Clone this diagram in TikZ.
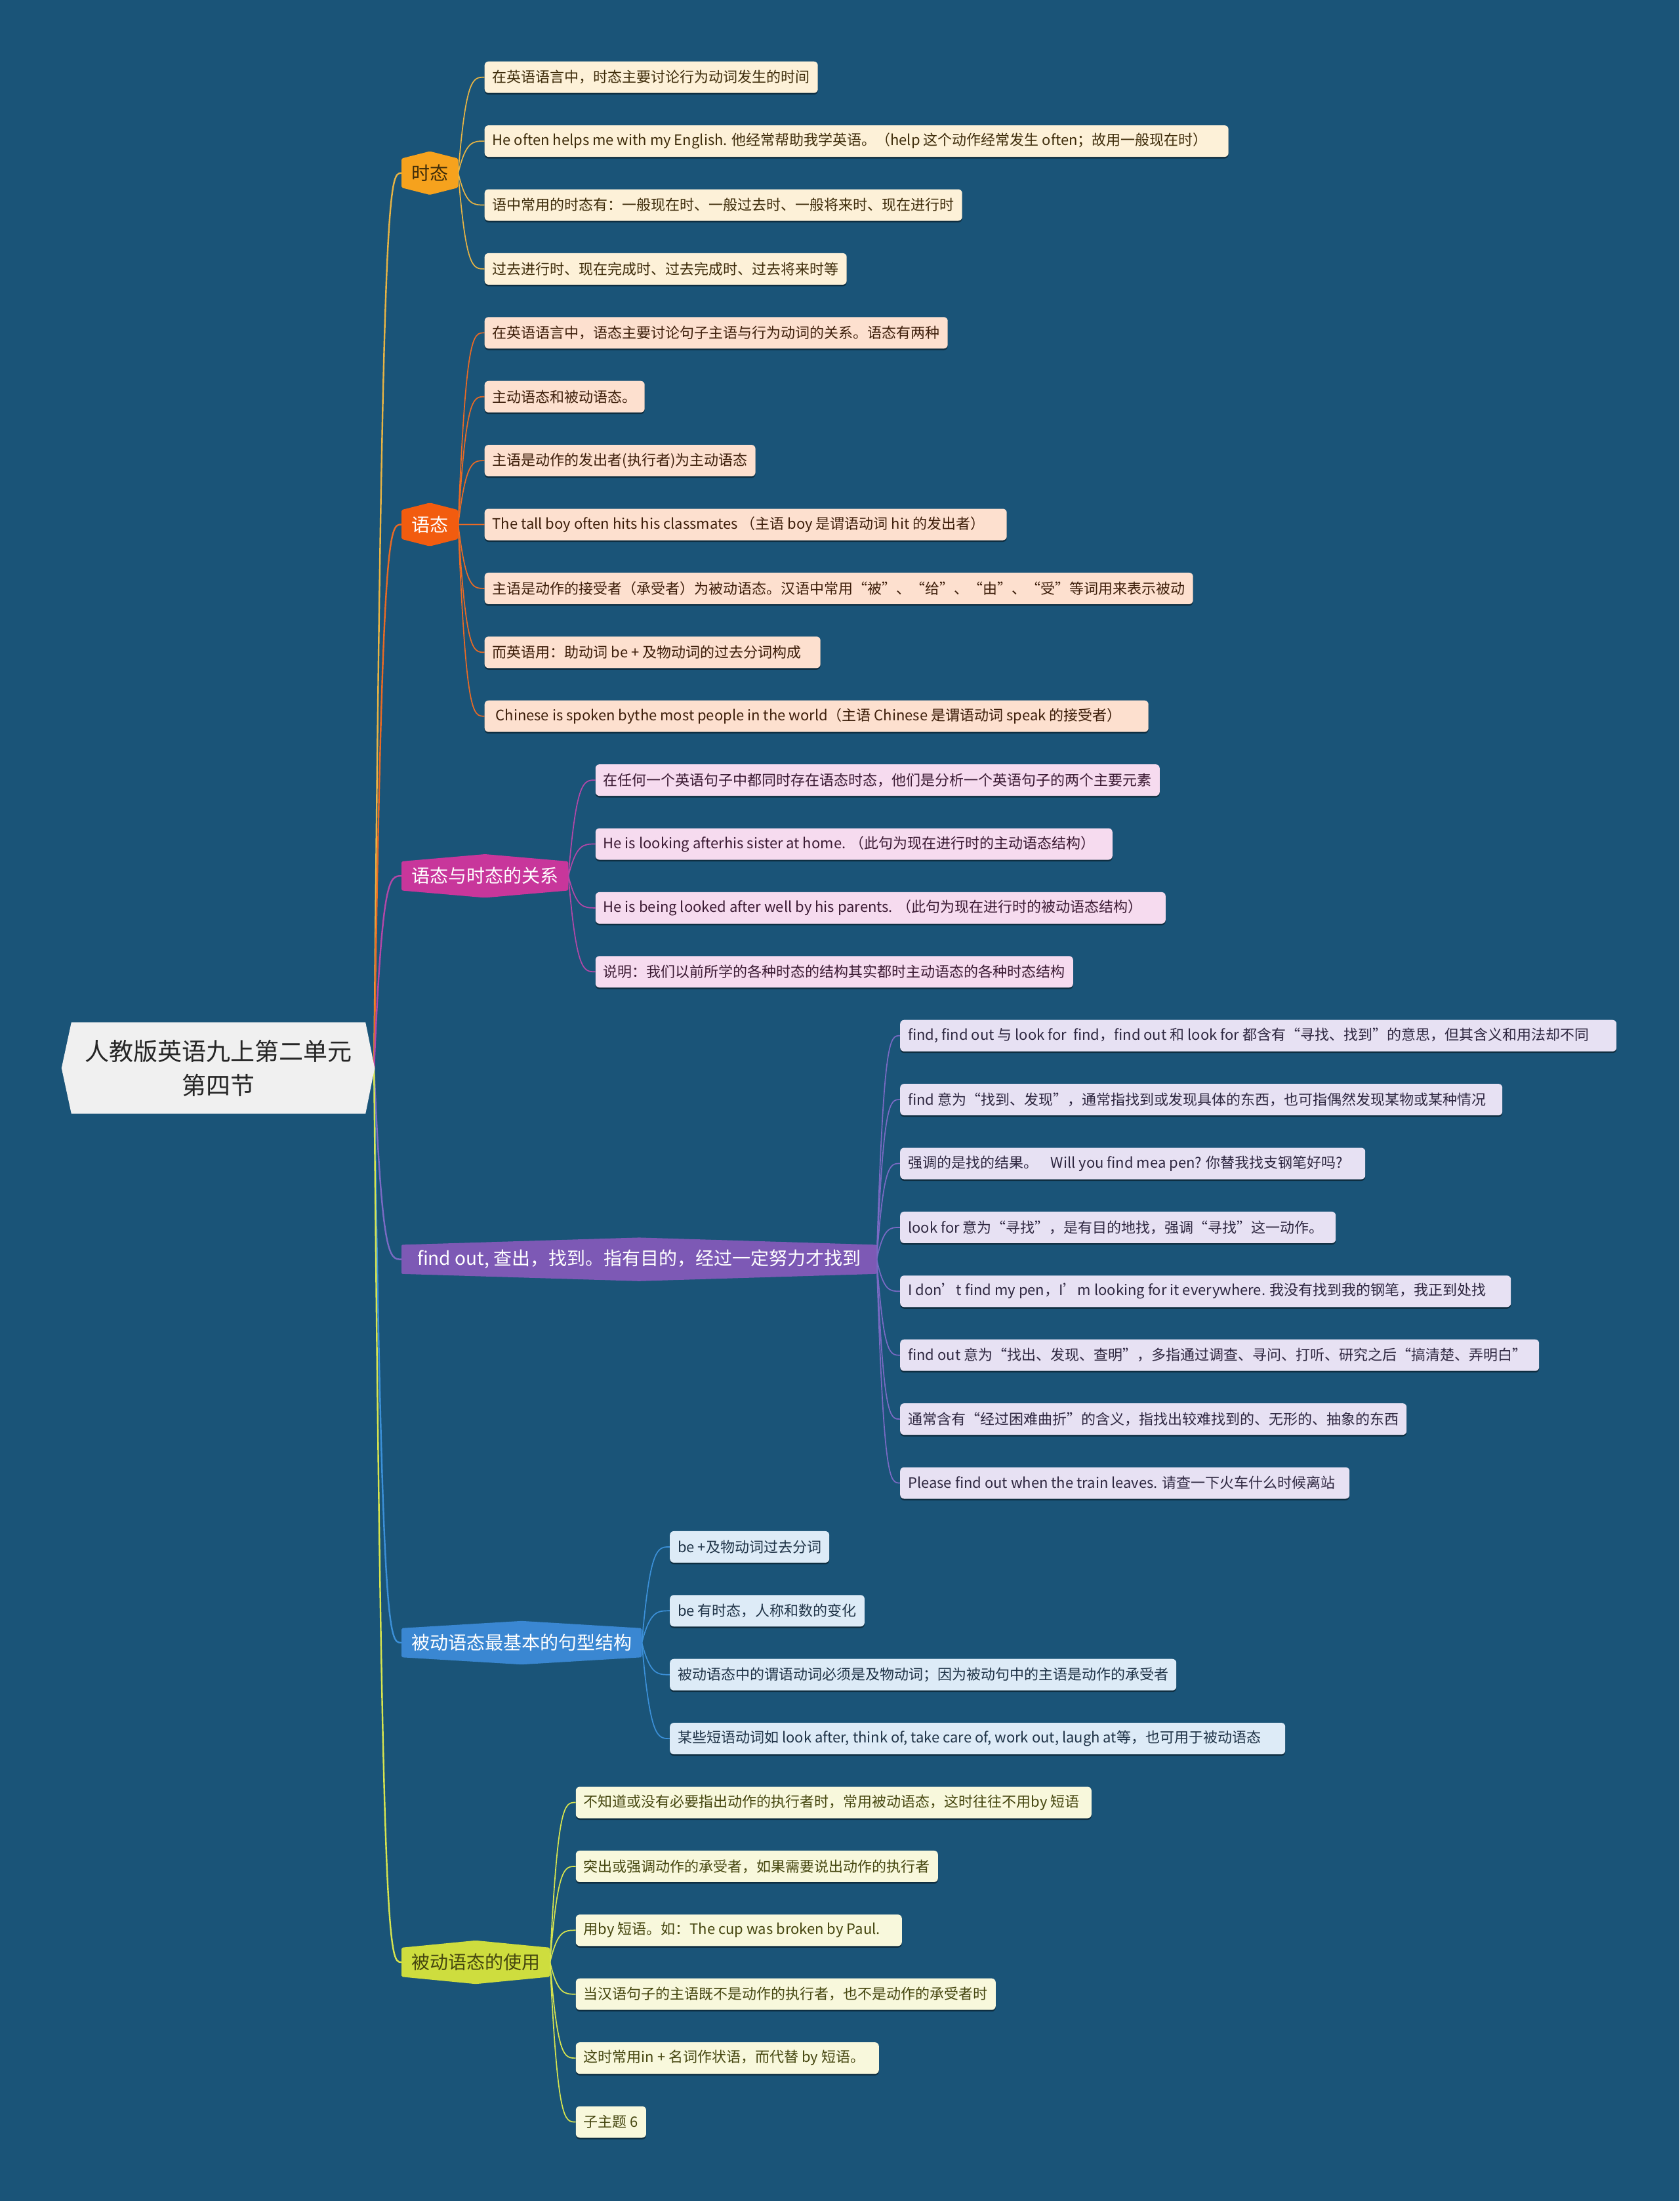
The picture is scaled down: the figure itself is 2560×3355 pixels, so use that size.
\documentclass[tikz,border=0pt]{standalone}
\usepackage{fontspec}
\setmainfont{Noto Sans CJK SC}
\usetikzlibrary{shadows,calc}
\pgfdeclarelayer{back}
\pgfdeclarelayer{shapes}
\pgfsetlayers{back,shapes,main}
\definecolor{bg}{HTML}{1A5478}
\definecolor{rootfill}{HTML}{F0F0F0}
\definecolor{rootText}{HTML}{262626}
\definecolor{cA}{HTML}{F6A21D}
\definecolor{cAl}{HTML}{FDF1D8}
\definecolor{cAc}{HTML}{E8B444}
\definecolor{cAt}{HTML}{3E2C0A}
\definecolor{cB}{HTML}{F25C0F}
\definecolor{cBl}{HTML}{FDE0CF}
\definecolor{cBc}{HTML}{EA6A24}
\definecolor{cBt}{HTML}{3D1E0A}
\definecolor{cC}{HTML}{C8369B}
\definecolor{cCl}{HTML}{F6DBEF}
\definecolor{cCc}{HTML}{B447A8}
\definecolor{cCt}{HTML}{3B1A33}
\definecolor{cD}{HTML}{7D59B5}
\definecolor{cDl}{HTML}{E7E1F3}
\definecolor{cDc}{HTML}{7A6AC4}
\definecolor{cDt}{HTML}{2E2740}
\definecolor{cE}{HTML}{3A87D2}
\definecolor{cEl}{HTML}{DDEBF7}
\definecolor{cEc}{HTML}{3C90D8}
\definecolor{cEt}{HTML}{1F3347}
\definecolor{cF}{HTML}{CEDD3E}
\definecolor{cFl}{HTML}{F8F8DC}
\definecolor{cFc}{HTML}{D8E54E}
\definecolor{cFt}{HTML}{45460F}
\tikzset{
  leaf/.style={anchor=west, rounded corners=6pt, minimum height=48pt, inner xsep=12pt, inner ysep=0pt,
    font=\fontsize{22}{26}\selectfont,
    drop shadow={shadow xshift=0pt, shadow yshift=-2.5pt, opacity=0.45, fill=black}},
  leafA/.style={leaf, fill=cAl, text=cAt},
  leafB/.style={leaf, fill=cBl, text=cBt},
  leafC/.style={leaf, fill=cCl, text=cCt},
  leafD/.style={leaf, fill=cDl, text=cDt},
  leafE/.style={leaf, fill=cEl, text=cEt},
  leafF/.style={leaf, fill=cFl, text=cFt},
  lvlone/.style={anchor=west, minimum height=44pt, inner xsep=15pt, inner ysep=0pt,
    font=\fontsize{28}{32}\selectfont},
  conn/.style={line width=1.7pt},
  mainconn/.style={line width=2.4pt},
}
\newcommand\lbox[2]{\makebox[#1][l]{#2}}
\newcommand\branchshape[2]{%
  \begin{pgfonlayer}{shapes}
  \fill[#2, rounded corners=2pt] (#1.north west) -- ([yshift=11pt]#1.north) -- (#1.north east)
    -- (#1.south east) -- ([yshift=-11pt]#1.south) -- (#1.south west) -- cycle;
  \end{pgfonlayer}}
\newcommand\curveto[3]{%
  \draw[#1] (#2) .. controls ($(#2 |- #3)!0.3!(#3)$) and ($(#2 |- #3)!0.55!(#3)$) .. (#3);}
\begin{document}
\begin{tikzpicture}[x=1pt,y=-1pt]
\begin{pgfonlayer}{back}
\fill[bg] (0,0) rectangle (2560,3355);
\end{pgfonlayer}
\useasboundingbox (0,0) rectangle (2560,3355);

% root
\node[minimum width=448pt, minimum height=139pt, align=center, text=rootText,
  font=\fontsize{37}{52}\selectfont] (root) at (333,1628) {人教版英语九上第二单元\\第四节};
\begin{pgfonlayer}{shapes}
\fill[rootfill] (root.north west) -- (root.north east) -- ([xshift=14pt]root.east) -- (root.south east)
  -- (root.south west) -- ([xshift=-15pt]root.west) -- cycle;
\end{pgfonlayer}
\coordinate (rp) at ([xshift=13pt]root.east);

% level one
\node[lvlone, text=cAt] (A) at (612,263.8) {时态};
\node[lvlone, text=white] (B) at (612,799.5) {语态};
\node[lvlone, text=white] (C) at (612,1335.2) {语态与时态的关系};
\node[lvlone, text=white, minimum width=724pt] (D) at (612,1919.6) {find out, 查出，找到。指有目的，经过一定努力才找到};
\node[lvlone, text=white] (E) at (612,2504) {被动语态最基本的句型结构};
\node[lvlone, text=cFt] (F) at (612,2991) {被动语态的使用};
\branchshape{A}{cA}
\branchshape{B}{cB}
\branchshape{C}{cC}
\branchshape{D}{cD}
\branchshape{E}{cE}
\branchshape{F}{cF}

% leaves A
\node[leafA] (a1) at (738.5,117.7) {在英语语言中，时态主要讨论行为动词发生的时间};
\node[leafA] (a2) at (738.5,215.1) {\lbox{1110pt}{He often helps me with my English. 他经常帮助我学英语。（help 这个动作经常发生 often；故用一般现在时）}};
\node[leafA] (a3) at (738.5,312.5) {语中常用的时态有：一般现在时、一般过去时、一般将来时、现在进行时};
\node[leafA] (a4) at (738.5,409.9) {过去进行时、现在完成时、过去完成时、过去将来时等};
% leaves B
\node[leafB] (b1) at (738.5,507.3) {在英语语言中，语态主要讨论句子主语与行为动词的关系。语态有两种};
\node[leafB] (b2) at (738.5,604.7) {主动语态和被动语态。};
\node[leafB] (b3) at (738.5,702.1) {主语是动作的发出者(执行者)为主动语态};
\node[leafB] (b4) at (738.5,799.5) {\lbox{772pt}{The tall boy often hits his classmates （主语 boy 是谓语动词 hit 的发出者）}};
\node[leafB] (b5) at (738.5,896.9) {主语是动作的接受者（承受者）为被动语态。汉语中常用“被”、“给”、“由”、“受”等词用来表示被动};
\node[leafB] (b6) at (738.5,994.3) {\lbox{488pt}{而英语用：助动词 be + 及物动词的过去分词构成}};
\node[leafB] (b7) at (738.5,1091.7) {\lbox{988pt}{\ Chinese is spoken bythe most people in the world（主语 Chinese 是谓语动词 speak 的接受者）}};
% leaves C
\node[leafC] (c1) at (907.6,1189.1) {在任何一个英语句子中都同时存在语态时态，他们是分析一个英语句子的两个主要元素};
\node[leafC] (c2) at (907.6,1286.5) {\lbox{764pt}{He is looking afterhis sister at home. （此句为现在进行时的主动语态结构）}};
\node[leafC] (c3) at (907.6,1383.9) {\lbox{845pt}{He is being looked after well by his parents. （此句为现在进行时的被动语态结构）}};
\node[leafC] (c4) at (907.6,1481.3) {说明：我们以前所学的各种时态的结构其实都时主动语态的各种时态结构};
% leaves D
\node[leafD] (d1) at (1372,1578.7) {\lbox{1068pt}{find, find out 与 look for\ \ find，find out 和 look for 都含有“寻找、找到”的意思，但其含义和用法却不同}};
\node[leafD] (d2) at (1372,1676.1) {\lbox{894pt}{find 意为“找到、发现”，通常指找到或发现具体的东西，也可指偶然发现某物或某种情况}};
\node[leafD] (d3) at (1372,1773.5) {\lbox{685pt}{强调的是找的结果。\ \ \ \ Will you find mea pen? 你替我找支钢笔好吗?}};
\node[leafD] (d4) at (1372,1870.9) {\lbox{640pt}{look for 意为“寻找”，是有目的地找，强调“寻找”这一动作。}};
\node[leafD] (d5) at (1372,1968.3) {\lbox{907pt}{I don’t find my pen，I’m looking for it everywhere. 我没有找到我的钢笔，我正到处找}};
\node[leafD] (d6) at (1372,2065.7) {\lbox{950pt}{find out 意为“找出、发现、查明”，多指通过调查、寻问、打听、研究之后“搞清楚、弄明白”}};
\node[leafD] (d7) at (1372,2163.1) {通常含有“经过困难曲折”的含义，指找出较难找到的、无形的、抽象的东西};
\node[leafD] (d8) at (1372,2260.5) {\lbox{661pt}{Please find out when the train leaves. 请查一下火车什么时候离站}};
% leaves E
\node[leafE] (e1) at (1021,2357.9) {be +及物动词过去分词};
\node[leafE] (e2) at (1021,2455.3) {be 有时态，人称和数的变化};
\node[leafE] (e3) at (1021,2552.7) {被动语态中的谓语动词必须是及物动词；因为被动句中的主语是动作的承受者};
\node[leafE] (e4) at (1021,2650.1) {\lbox{914pt}{某些短语动词如 look after, think of, take care of, work out, laugh at等，也可用于被动语态}};
% leaves F
\node[leafF] (f1) at (877.6,2747.5) {\lbox{762pt}{不知道或没有必要指出动作的执行者时，常用被动语态，这时往往不用by 短语}};
\node[leafF] (f2) at (877.6,2844.9) {突出或强调动作的承受者，如果需要说出动作的执行者};
\node[leafF] (f3) at (877.6,2942.3) {\lbox{473pt}{用by 短语。如：The cup was broken by Paul.}};
\node[leafF] (f4) at (877.6,3039.7) {当汉语句子的主语既不是动作的执行者，也不是动作的承受者时};
\node[leafF] (f5) at (877.6,3137.1) {\lbox{438pt}{这时常用in + 名词作状语，而代替 by 短语。}};
\node[leafF] (f6) at (877.6,3234.5) {子主题 6};

\begin{pgfonlayer}{back}
\curveto{mainconn,cAc}{rp}{A.west}
\curveto{mainconn,cBc}{rp}{B.west}
\curveto{mainconn,cCc}{rp}{C.west}
\curveto{mainconn,cDc}{rp}{D.west}
\curveto{mainconn,cEc}{rp}{E.west}
\curveto{mainconn,cFc}{rp}{F.west}
\foreach \n in {a1,a2,a3,a4}{\curveto{conn,cAc}{A.east}{\n.west}}
\foreach \n in {b1,b2,b3,b4,b5,b6,b7}{\curveto{conn,cBc}{B.east}{\n.west}}
\foreach \n in {c1,c2,c3,c4}{\curveto{conn,cCc}{C.east}{\n.west}}
\foreach \n in {d1,d2,d3,d4,d5,d6,d7,d8}{\curveto{conn,cDc}{D.east}{\n.west}}
\foreach \n in {e1,e2,e3,e4}{\curveto{conn,cEc}{E.east}{\n.west}}
\foreach \n in {f1,f2,f3,f4,f5,f6}{\curveto{conn,cFc}{F.east}{\n.west}}
\end{pgfonlayer}
\end{tikzpicture}
\end{document}
